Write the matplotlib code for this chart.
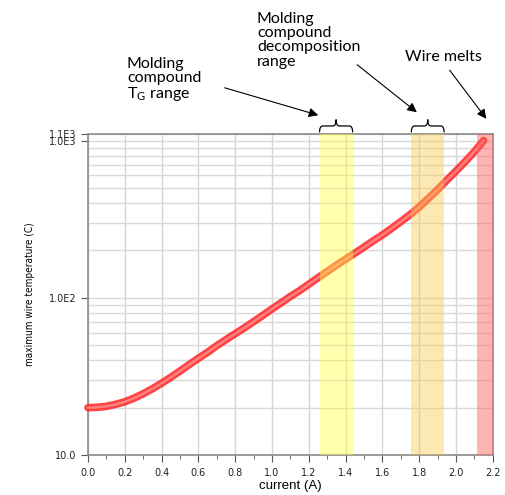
import matplotlib
matplotlib.use("Agg")
import matplotlib.pyplot as plt
from matplotlib.path import Path
from matplotlib.patches import PathPatch
from matplotlib.ticker import FixedLocator, NullFormatter, MultipleLocator, LogLocator

# values
current = [0.00, 0.05, 0.10, 0.15, 0.20, 0.25, 0.30, 0.35, 0.40, 0.45,
           0.50, 0.55, 0.60, 0.65, 0.70, 0.75, 0.80, 0.85, 0.90, 0.95,
           1.00, 1.05, 1.10, 1.15, 1.20, 1.25, 1.30, 1.35, 1.40, 1.45,
           1.50, 1.55, 1.60, 1.65, 1.70, 1.75, 1.80, 1.85, 1.90, 1.95,
           2.00, 2.05, 2.10, 2.15]
temperature = [20.0, 20.1, 20.4, 21.0, 21.8, 23.0, 24.5, 26.4, 28.6, 31.2,
               34.2, 37.6, 41.2, 45.0, 49.6, 54.2, 59.1, 64.4, 70.5, 77.3,
               84.9, 93.0, 102, 111, 122, 134, 147, 161, 176, 192,
               210, 230, 251, 276, 305, 338, 378, 429, 487, 560,
               640, 735, 850, 1000]

tg_range = (1.258, 1.438)
decomp_range = (1.757, 1.935)
melt_range = (2.116, 2.2)

y_ticks = [10, 100, 1000, 1100]
y_tick_labels = ["10.0", "1.0E2", "1.0E3", "1.1E3"]

fig = plt.figure(figsize=(5.05, 4.95), dpi=100)
ax = fig.add_axes([0.1743, 0.0808, 0.8017, 0.6485])

ax.plot(current, temperature, color="#ff2e2e", lw=5.5, solid_capstyle="round",
        alpha=0.9, zorder=3, clip_on=False)
ax.plot(current, temperature, color="#ff8080", lw=1.8, solid_capstyle="round",
        zorder=3, clip_on=False)

ax.axvspan(*tg_range, color="#ffff40", alpha=0.42, lw=0, zorder=4)
ax.axvspan(*decomp_range, color="#f9c94a", alpha=0.42, lw=0, zorder=4)
ax.axvspan(*melt_range, color="#ff5a5a", alpha=0.45, lw=0, zorder=4)

ax.set_yscale("log")
ax.set_xlim(0, 2.2)
ax.set_ylim(10, 1100)

ax.xaxis.set_major_locator(MultipleLocator(0.2))
ax.xaxis.set_minor_locator(MultipleLocator(0.1))
ax.xaxis.set_major_formatter(matplotlib.ticker.FormatStrFormatter("%.1f"))
ax.yaxis.set_major_locator(FixedLocator(y_ticks))
ax.set_yticklabels(y_tick_labels)
ax.yaxis.set_minor_locator(LogLocator(base=10, subs=range(2, 10), numticks=10))
ax.yaxis.set_minor_formatter(NullFormatter())

ax.grid(True, which="major", axis="x", color="#d4d4d4", lw=1.0, zorder=1)
ax.grid(True, which="both", axis="y", color="#d9d9d9", lw=1.0, zorder=1)
ax.set_axisbelow(True)

for s in ax.spines.values():
    s.set_color("#8a8a8a")
    s.set_linewidth(1.2)
ax.tick_params(axis="both", which="major", direction="out", length=5,
               color="#555555", labelsize=7, labelcolor="#222222")
ax.tick_params(axis="x", which="minor", direction="out", length=3, color="#555555")
ax.tick_params(axis="y", which="minor", length=0)
ax.tick_params(axis="x", pad=4)

ax.set_ylabel("maximum wire temperature (C)", fontsize=7.2, family="DejaVu Sans",
              fontstretch="condensed", labelpad=10)
ax.set_xlabel("current (A)", fontsize=9.5, family=["Liberation Sans", "DejaVu Sans"],
              labelpad=2)


def brace(x0, x1):
    xc = (x0 + x1) / 2
    d = 0.018
    yb, ym, yt = 1.005, 1.025, 1.045
    verts = [(x0, yb), (x0, ym), (x0 + d, ym), (xc - d, ym), (xc, ym), (xc, yt),
             (xc, ym), (xc + d, ym), (x1 - d, ym), (x1, ym), (x1, yb)]
    codes = [Path.MOVETO, Path.CURVE3, Path.CURVE3, Path.LINETO, Path.CURVE3, Path.CURVE3,
             Path.CURVE3, Path.CURVE3, Path.LINETO, Path.CURVE3, Path.CURVE3]
    p = PathPatch(Path(verts, codes), fill=False, lw=0.9, color="black",
                  transform=ax.get_xaxis_transform(), clip_on=False)
    ax.add_patch(p)


brace(*tg_range)
brace(*decomp_range)

W, H = 505, 495
ann_font = dict(fontsize=11.5, family=["Lato", "DejaVu Sans"], va="top", ha="left",
                linespacing=1.02)
fig.text(127 / W, 1 - 57 / H, "Molding\ncompound\nT$_\\mathregular{G}$ range", **ann_font)
fig.text(257 / W, 1 - 12 / H, "Molding\ncompound\ndecomposition\nrange", **ann_font)
fig.text(405 / W, 1 - 50 / H, "Wire melts", **ann_font)

arrow = dict(arrowstyle="-|>", color="black", lw=0.8, mutation_scale=14)
ax.annotate("", xy=(321 / W, 1 - 116 / H), xytext=(222 / W, 1 - 87 / H),
            xycoords="figure fraction", textcoords="figure fraction", arrowprops=arrow)
ax.annotate("", xy=(419 / W, 1 - 114 / H), xytext=(355 / W, 1 - 63 / H),
            xycoords="figure fraction", textcoords="figure fraction", arrowprops=arrow)
ax.annotate("", xy=(488 / W, 1 - 121 / H), xytext=(448 / W, 1 - 68 / H),
            xycoords="figure fraction", textcoords="figure fraction", arrowprops=arrow)

fig.savefig("out.png", dpi=100)
